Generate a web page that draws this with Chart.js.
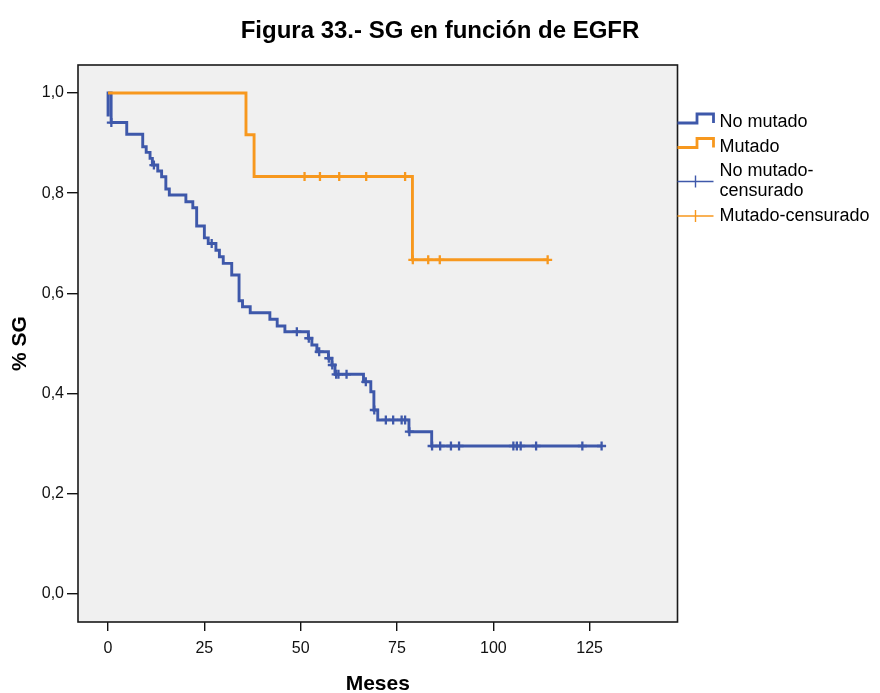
<!DOCTYPE html>
<html>
<head>
<meta charset="utf-8">
<script src="https://cdn.jsdelivr.net/npm/chart.js@4.4.1/dist/chart.umd.min.js"></script>
<style>
  html, body { margin: 0; padding: 0; background: #ffffff; }
  #wrap { width: 880px; height: 693px; }
</style>
</head>
<body>
<div id="wrap"><canvas id="c" width="880" height="693"></canvas></div>
<script>
// Kaplan-Meier survival (SG) by EGFR status, months of follow-up
const noMutadoEventMonths = [0, 0.8, 4.85, 9.0, 9.9, 10.9, 11.5, 12.9, 13.9, 15.0, 15.9, 20.2, 22.0, 23.0,
  25.0, 26.0, 28.0, 28.9, 29.9, 32.1, 34.0, 34.9, 36.9, 42.0, 43.9, 45.9, 52.0, 52.9, 54.2, 57.2,
  58.1, 58.9, 66.3, 68.2, 69.0, 70.0, 78.1, 84.0];
const noMutadoSurvival = [0.953, 0.941, 0.9175, 0.8927, 0.8815, 0.8695, 0.8561, 0.8442, 0.8328, 0.8082,
  0.7962, 0.7828, 0.7708, 0.7343, 0.7105, 0.6993, 0.6858, 0.6729, 0.6597, 0.6364, 0.585, 0.573, 0.561,
  0.548, 0.5345, 0.523, 0.510, 0.4965, 0.483, 0.470, 0.4565, 0.438, 0.423, 0.403, 0.3666, 0.3467,
  0.3233, 0.2947];
const noMutadoCensoredMonths = [0.85, 11.9, 26.9, 49.0, 52.1, 54.8, 57.3, 58.2, 59.2, 59.8, 61.9, 66.9,
  69.1, 72.1, 74.0, 76.2, 77.1, 78.2, 84.1, 86.2, 89.0, 91.1, 105.2, 106.1, 107.1, 111.1, 123.1, 128.1];

const mutadoEventMonths = [35.8, 37.9, 79.0];
const mutadoSurvival = [0.9167, 0.8333, 0.6667];
const mutadoCensoredMonths = [51.0, 55.0, 60.0, 67.0, 77.1, 79.1, 83.1, 86.1, 114.1];

const xTickValues = [0, 25, 50, 75, 100, 125];
const yTickValues = [0, 0.2, 0.4, 0.6, 0.8, 1.0];
const yTickLabels = ['0,0', '0,2', '0,4', '0,6', '0,8', '1,0'];

const seriesNames = ['No mutado', 'Mutado', 'No mutado-censurado', 'Mutado-censurado'];
const legendLines = [['No mutado'], ['Mutado'], ['No mutado-', 'censurado'], ['Mutado-censurado']];

const BLUE = '#3E58AA';
const ORANGE = '#F7981E';
const FONT = '"Liberation Sans", Arial, sans-serif';

// Step path of a survival curve; deaths at month 0 appear as a spike at the origin
function stepPath(times, surv, endMonth) {
  const pts = [{ x: 0, y: 1 }];
  let level = 1;
  times.forEach((t, i) => {
    if (t === 0) {
      pts.push({ x: 0, y: surv[i] }, { x: 0, y: level });
      return;
    }
    pts.push({ x: t, y: level }, { x: t, y: surv[i] });
    level = surv[i];
  });
  pts.push({ x: endMonth, y: level });
  return pts;
}

function survivalAt(times, surv, month) {
  let s = 1;
  times.forEach((t, i) => { if (t <= month) s = surv[i]; });
  return s;
}

function censorPoints(censored, times, surv) {
  return censored.map(m => ({ x: m, y: survivalAt(times, surv, m) }));
}

const lastOf = a => a[a.length - 1];

const plotBackground = {
  id: 'plotBackground',
  beforeDraw(chart) {
    const { ctx, chartArea: a } = chart;
    ctx.save();
    ctx.fillStyle = '#F0F0F0';
    ctx.fillRect(a.left, a.top, a.right - a.left, a.bottom - a.top);
    ctx.restore();
  },
  afterDraw(chart) {
    const { ctx, chartArea: a } = chart;
    ctx.save();
    ctx.strokeStyle = '#1a1a1a';
    ctx.lineWidth = 1.6;
    ctx.strokeRect(a.left, a.top, a.right - a.left, a.bottom - a.top);
    ctx.restore();
  }
};

// Legend to the right of the plot: step symbols for curves, crosses for censored cases
const sideLegend = {
  id: 'sideLegend',
  afterDraw(chart) {
    const { ctx, chartArea: a } = chart;
    const x0 = a.right;
    const x1 = x0 + 19.5;
    const x2 = x0 + 36;
    const textX = x0 + 42;
    const lineGap = 20;
    const entryGap = 24.5;
    const colors = [BLUE, ORANGE, BLUE, ORANGE];
    ctx.save();
    ctx.font = '18px ' + FONT;
    ctx.textBaseline = 'middle';
    ctx.textAlign = 'left';
    let y = 122.5;
    legendLines.forEach((lines, i) => {
      const yMid = y + (lines.length - 1) * lineGap / 2;
      ctx.strokeStyle = colors[i];
      if (i < 2) {
        ctx.lineWidth = 2.8;
        ctx.beginPath();
        ctx.moveTo(x0, y + 0.5);
        ctx.lineTo(x1, y + 0.5);
        ctx.lineTo(x1, y - 8.5);
        ctx.lineTo(x2, y - 8.5);
        ctx.lineTo(x2, y + 0.5);
        ctx.stroke();
      } else {
        ctx.lineWidth = 1.4;
        ctx.beginPath();
        ctx.moveTo(x0, yMid);
        ctx.lineTo(x2, yMid);
        ctx.moveTo(x0 + 18, yMid - 6);
        ctx.lineTo(x0 + 18, yMid + 6);
        ctx.stroke();
      }
      ctx.fillStyle = '#000';
      lines.forEach((txt, k) => ctx.fillText(txt, textX, y + k * lineGap));
      y += (lines.length - 1) * lineGap + entryGap;
    });
    ctx.restore();
  }
};

new Chart(document.getElementById('c'), {
  type: 'scatter',
  data: {
    datasets: [
      {
        label: seriesNames[0],
        data: stepPath(noMutadoEventMonths, noMutadoSurvival, lastOf(noMutadoCensoredMonths)),
        showLine: true, borderColor: BLUE, borderWidth: 2.9, pointRadius: 0, tension: 0, order: 4
      },
      {
        label: seriesNames[2],
        data: censorPoints(noMutadoCensoredMonths, noMutadoEventMonths, noMutadoSurvival),
        showLine: false, pointStyle: 'cross', pointRadius: 4.5, pointBorderWidth: 2.3,
        borderColor: BLUE, pointBorderColor: BLUE, order: 3
      },
      {
        label: seriesNames[1],
        data: stepPath(mutadoEventMonths, mutadoSurvival, lastOf(mutadoCensoredMonths)),
        showLine: true, borderColor: ORANGE, borderWidth: 2.9, pointRadius: 0, tension: 0, order: 2
      },
      {
        label: seriesNames[3],
        data: censorPoints(mutadoCensoredMonths, mutadoEventMonths, mutadoSurvival),
        showLine: false, pointStyle: 'cross', pointRadius: 4.5, pointBorderWidth: 2.3,
        borderColor: ORANGE, pointBorderColor: ORANGE, order: 1
      }
    ]
  },
  options: {
    responsive: false,
    animation: false,
    devicePixelRatio: 1,
    layout: { padding: 0 },
    plugins: {
      legend: { display: false },
      tooltip: { enabled: false },
      title: {
        display: true,
        text: 'Figura 33.- SG en función de EGFR',
        color: '#000',
        font: { family: FONT, size: 24, weight: 'bold', lineHeight: 1.2 },
        padding: { top: 17, bottom: 19.2 }
      }
    },
    scales: {
      x: {
        type: 'linear',
        min: -7.8,
        max: 147.8,
        afterBuildTicks: s => { s.ticks = xTickValues.map(v => ({ value: v })); },
        afterFit: s => { s.height = 71; },
        ticks: { color: '#111', font: { family: FONT, size: 16 }, padding: 8, maxRotation: 0, autoSkip: false },
        grid: { drawOnChartArea: false, drawTicks: true, tickLength: 9, color: '#111', lineWidth: 1.4 },
        border: { display: false },
        title: {
          display: true, text: 'Meses', color: '#000',
          font: { family: FONT, size: 21, weight: 'bold', lineHeight: 1 },
          padding: { top: 0, bottom: -1.5 }
        }
      },
      y: {
        type: 'linear',
        min: -0.057,
        max: 1.056,
        afterBuildTicks: s => { s.ticks = yTickValues.map(v => ({ value: v })); },
        afterFit: s => { s.width = 78; },
        ticks: {
          color: '#111', font: { family: FONT, size: 16 }, padding: 3, autoSkip: false,
          callback: (v, i) => yTickLabels[i]
        },
        grid: { drawOnChartArea: false, drawTicks: true, tickLength: 11, color: '#111', lineWidth: 1.4 },
        border: { display: false },
        title: {
          display: true, text: '% SG', color: '#000',
          font: { family: FONT, size: 21, weight: 'bold', lineHeight: 1 },
          padding: { top: 9.5, bottom: 0 }
        }
      },
      // empty right-hand band that holds the legend
      legendBand: {
        type: 'linear',
        position: 'right',
        display: true,
        afterFit: s => { s.width = 202.5; },
        ticks: { display: false },
        grid: { display: false },
        border: { display: false }
      }
    }
  },
  plugins: [plotBackground, sideLegend]
});
</script>
</body>
</html>
